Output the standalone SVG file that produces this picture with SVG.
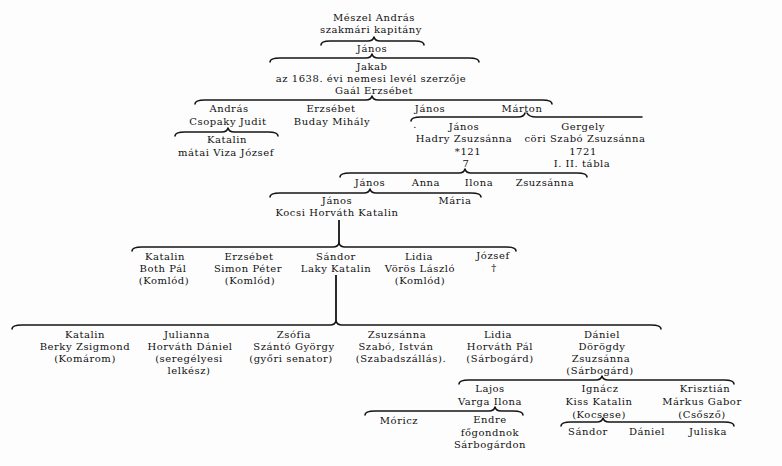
<svg xmlns="http://www.w3.org/2000/svg" width="782" height="466" viewBox="0 0 782 466">
<style>
text{font-family:"DejaVu Serif","Liberation Serif",serif;font-size:10px;letter-spacing:0.55px;fill:#111;text-anchor:middle}
.br{fill:none;stroke:#151515;stroke-width:1.6;stroke-linecap:round;stroke-linejoin:round}
.vl{fill:none;stroke:#151515;stroke-width:1.8}
</style>
<rect width="782" height="466" fill="#fdfdfd"/>
<g id="connectors">
<path class="br" d="M321,45 Q321,41 330,41 L368,41 Q373,41 374,37 Q375,41 380,41 L415,41 Q424,41 424,45"/>
<path class="br" d="M270,62 Q270,58 280,58 L366,58 Q371,58 372,54 Q373,58 378,58 L469,58 Q479,58 479,62"/>
<path class="br" d="M195,104 Q195,100 205,100 L366,100 Q371,100 372,96 Q373,100 378,100 L542,100 Q552,100 552,104"/>
<path class="br" d="M175,136 Q175,132 185,132 L222,132 Q227,132 228,128 Q229,132 234,132 L268,132 Q278,132 278,136"/>
<path class="br" d="M411,121 Q411,117 421,117 L518,117 Q524,117 525,113"/>
<path class="br" d="M527,113 Q529,117 536,117 L642,117"/>
<path class="br" d="M340,177 Q340,173 350,173 L459,173 Q464,173 465,169 Q466,173 471,173 L577,173 Q587,173 587,177"/>
<path class="br" d="M270,197 Q270,193 280,193 L364,193 Q369,193 370,189 Q371,193 376,193 L471,193 Q481,193 481,197"/>
<path class="vl" d="M339,220 L339,244"/>
<path class="br" d="M132,251 Q132,247 142,247 L333,247 Q338,247 339,243 Q340,247 345,247 L506,247 Q516,247 516,251"/>
<path class="vl" d="M336,275 L336,321"/>
<path class="br" d="M12,329 Q12,325 22,325 L330,325 Q335,325 336,321 Q337,325 342,325 L651,325 Q661,325 661,329"/>
<path class="br" d="M459,384 Q459,380 469,380 L596,380 Q601,380 602,376 Q603,380 608,380 L724,380 Q734,380 734,384"/>
<path class="br" d="M365,415 Q365,411 375,411 L489,411 Q494,411 495,407 Q496,411 501,411 L513,411 Q523,411 523,415"/>
<path class="br" d="M561,426 Q561,422 571,422 L597,422 Q602,422 603,418 Q604,422 609,422 L724,422 Q734,422 734,426"/>
</g>
<g id="meszel-andras"><text x="374" y="21">Mészel András</text><text x="371" y="33">szakmári kapitány</text></g>
<g id="janos-1"><text x="372" y="52">János</text></g>
<g id="jakab"><text x="372" y="70">Jakab</text><text x="371" y="82">az 1638. évi nemesi levél szerzője</text><text x="374" y="94">Gaál Erzsébet</text></g>
<g id="andras"><text x="229" y="112">András</text><text x="228" y="125">Csopaky Judit</text></g>
<g id="katalin-1"><text x="227" y="143">Katalin</text><text x="226" y="156">mátai Viza József</text></g>
<g id="erzsebet-1"><text x="331" y="112">Erzsébet</text><text x="332" y="125">Buday Mihály</text></g>
<g id="janos-2"><text x="430" y="112">János</text></g>
<g id="marton"><text x="522" y="112">Márton</text></g>
<g id="janos-3"><text x="415" y="128">.</text><text x="464" y="130">János</text><text x="464" y="142">Hadry Zsuzsánna</text><text x="468" y="155">*121</text><text x="466" y="167">7</text></g>
<g id="gergely"><text x="583" y="130">Gergely</text><text x="585" y="142">cöri Szabó Zsuzsánna</text><text x="583" y="155">1721</text><text x="582" y="167">I. II. tábla</text></g>
<g id="janos-4"><text x="370" y="186">János</text></g>
<g id="anna"><text x="426" y="186">Anna</text></g>
<g id="ilona"><text x="479" y="186">Ilona</text></g>
<g id="zsuzsanna-1"><text x="545" y="186">Zsuzsánna</text></g>
<g id="janos-5"><text x="337" y="204">János</text><text x="337" y="216">Kocsi Horváth Katalin</text></g>
<g id="maria"><text x="455" y="204">Mária</text></g>
<g id="katalin-2"><text x="165" y="260">Katalin</text><text x="163" y="272">Both  Pál</text><text x="164" y="284">(Komlód)</text></g>
<g id="erzsebet-2"><text x="249" y="260">Erzsébet</text><text x="248" y="272">Simon Péter</text><text x="250" y="284">(Komlód)</text></g>
<g id="sandor-1"><text x="336" y="260">Sándor</text><text x="336" y="272">Laky Katalin</text></g>
<g id="lidia-1"><text x="419" y="260">Lidia</text><text x="420" y="272">Vörös László</text><text x="420" y="284">(Komlód)</text></g>
<g id="jozsef"><text x="493" y="259">József</text><text x="494" y="271">†</text></g>
<g id="katalin-3"><text x="85" y="338">Katalin</text><text x="85" y="350">Berky Zsigmond</text><text x="85" y="362">(Komárom)</text></g>
<g id="julianna"><text x="187" y="338">Julianna</text><text x="190" y="350">Horváth Dániel</text><text x="189" y="362">(seregélyesi</text><text x="189" y="374">lelkész)</text></g>
<g id="zsofia"><text x="294" y="338">Zsófia</text><text x="294" y="350">Szántó György</text><text x="291" y="362">(győri senator)</text></g>
<g id="zsuzsanna-2"><text x="397" y="338">Zsuzsánna</text><text x="396" y="350">Szabó, István</text><text x="401" y="362">(Szabadszállás).</text></g>
<g id="lidia-2"><text x="498" y="338">Lidia</text><text x="500" y="350">Horváth  Pál</text><text x="500" y="362">(Sárbogárd)</text></g>
<g id="daniel-1"><text x="602" y="338">Dániel</text><text x="602" y="350">Dörögdy</text><text x="601" y="362">Zsuzsánna</text><text x="600" y="374">(Sárbogárd)</text></g>
<g id="lajos"><text x="490" y="392">Lajos</text><text x="490" y="405">Varga Ilona</text></g>
<g id="ignacz"><text x="600" y="392">Ignácz</text><text x="599" y="405">Kiss Katalin</text><text x="599" y="418">(Kocsese)</text></g>
<g id="krisztian"><text x="705" y="392">Krisztián</text><text x="702" y="405">Márkus Gabor</text><text x="702" y="418">(Csősző)</text></g>
<g id="moricz"><text x="399" y="424">Móricz</text></g>
<g id="endre"><text x="490" y="423">Endre</text><text x="490" y="436">főgondnok</text><text x="490" y="448">Sárbogárdon</text></g>
<g id="sandor-2"><text x="588" y="435">Sándor</text></g>
<g id="daniel-2"><text x="647" y="435">Dániel</text></g>
<g id="juliska"><text x="708" y="435">Juliska</text></g>
</svg>
